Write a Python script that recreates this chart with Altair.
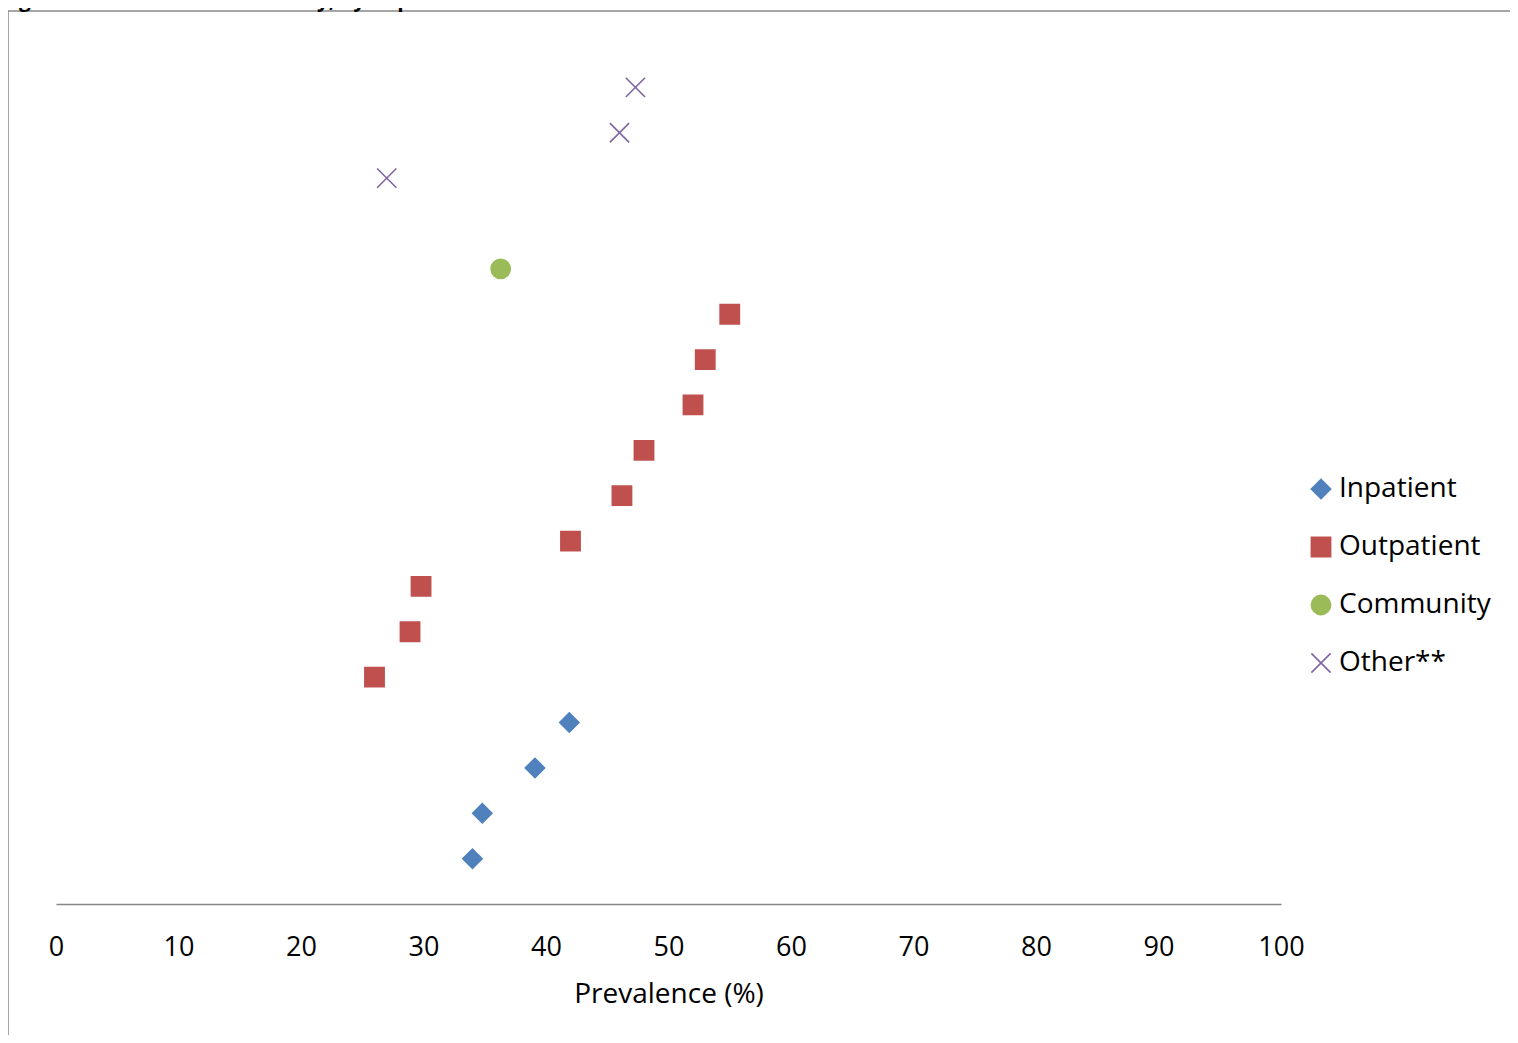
import altair as alt
import pandas as pd

# ---- data ----
series_names = ["Inpatient", "Outpatient", "Community", "Other**"]
series_colors = ["#4F81BD", "#C0504D", "#9BBB59", "#8064A2"]
series_shapes = ["diamond", "square", "circle", "M-1,-1L1,1M-1,1L1,-1"]

inpatient_x = [34.0, 34.8, 39.1, 41.9]
inpatient_row = [1, 2, 3, 4]
outpatient_x = [26.0, 28.9, 29.8, 42.0, 46.2, 48.0, 52.0, 53.0, 55.0]
outpatient_row = [5, 6, 7, 8, 9, 10, 11, 12, 13]
community_x = [36.3]
community_row = [14]
other_x = [27.0, 46.0, 47.3]
other_row = [16, 17, 18]

x_ticks = [0, 10, 20, 30, 40, 50, 60, 70, 80, 90, 100]
title_text = "Figure 1 : Prevalence of Obesity, by Population"
x_title = "Prevalence (%)"

rows = []
for name, xs, rs in [
    ("Inpatient", inpatient_x, inpatient_row),
    ("Outpatient", outpatient_x, outpatient_row),
    ("Community", community_x, community_row),
    ("Other**", other_x, other_row),
]:
    for x, r in zip(xs, rs):
        rows.append({"Series": name, "Prevalence": x, "Row": r})
df = pd.DataFrame(rows)

FONT = "Open Sans"

color_scale = alt.Scale(domain=series_names, range=series_colors)
shape_scale = alt.Scale(domain=series_names, range=series_shapes)

points = alt.Chart(df).mark_point(filled=True, size=370, strokeWidth=1.6, opacity=1).encode(
    x=alt.X(
        "Prevalence:Q",
        scale=alt.Scale(domain=[0, 100], nice=False),
        axis=alt.Axis(
            values=x_ticks,
            title=x_title,
            grid=False,
            ticks=False,
            tickSize=0,
            domainColor="#868686",
            domainWidth=1.5,
            labelFont=FONT,
            labelFontSize=27,
            labelColor="#000000",
            labelPadding=30,
            labelFlush=False,
            labelOverlap=False,
            titleFont=FONT,
            titleFontSize=28,
            titleFontWeight="normal",
            titleColor="#000000",
            titlePadding=20,
        ),
    ),
    y=alt.Y("Row:Q", scale=alt.Scale(domain=[0, 19], nice=False), axis=None),
    color=alt.Color("Series:N", scale=color_scale, sort=series_names, legend=alt.Legend(title=None)),
    stroke=alt.Stroke("Series:N", scale=color_scale, sort=series_names, legend=alt.Legend(title=None)),
    shape=alt.Shape("Series:N", scale=shape_scale, sort=series_names, legend=alt.Legend(title=None)),
)

frame_df = pd.DataFrame({"k": [0]})
frame = alt.Chart(frame_df).mark_rect(
    fill="#ffffff", fillOpacity=0, stroke="#898989", strokeWidth=1.5
).encode(
    x=alt.value(-48), x2=alt.value(1500), y=alt.value(-31), y2=alt.value(1100)
)

title_df = pd.DataFrame({"t": [title_text]})
title = alt.Chart(title_df).mark_text(
    align="left", baseline="bottom", font=FONT, fontSize=21, fontWeight="bold", color="#000000"
).encode(text="t:N", x=alt.value(-55), y=alt.value(-31))

chart = alt.layer(frame, points, title).properties(
    width=1225,
    height=862,
    autosize="none",
    padding={"left": 48, "top": 34, "right": 229, "bottom": 131},
).configure_view(stroke=None).configure_legend(
    orient="none",
    legendX=1251,
    legendY=433,
    labelFont=FONT,
    labelFontSize=28,
    labelColor="#000000",
    symbolSize=370,
    symbolStrokeWidth=1.6,
    labelOffset=4,
    rowPadding=30,
    padding=0,
    labelLimit=300,
)

chart.save("out.html", embed_options={"renderer": "svg", "actions": False})
